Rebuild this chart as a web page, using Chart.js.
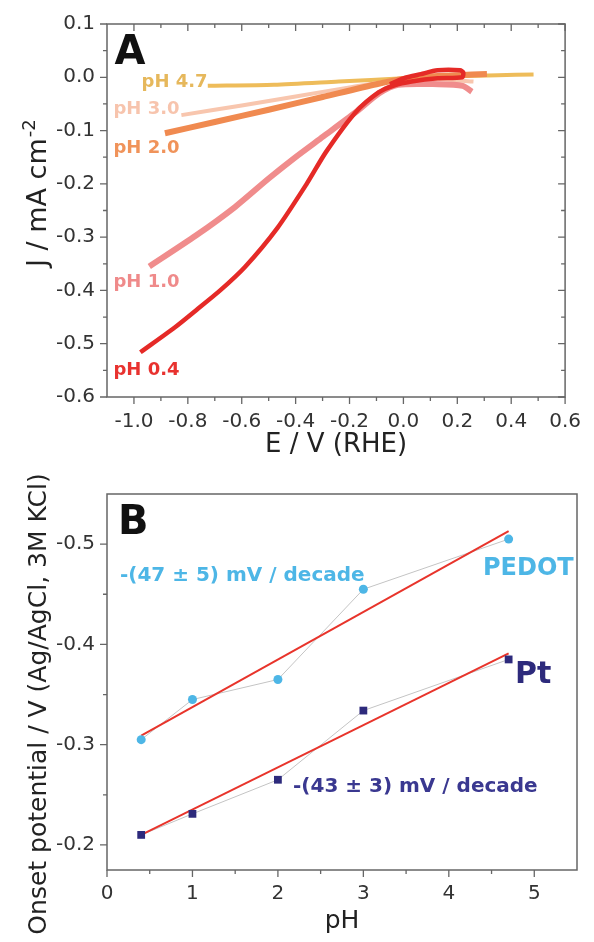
<!DOCTYPE html>
<html>
<head>
<meta charset="utf-8">
<script src="https://cdn.jsdelivr.net/npm/chart.js@4.4.1/dist/chart.umd.min.js"></script>
<style>
  body { margin: 0; background: #fff; }
  canvas { display: block; }
</style>
</head>
<body>
<canvas id="chartA" width="594" height="470"></canvas>
<canvas id="chartB" width="594" height="472"></canvas>
<script>
// Panel A: current density vs potential, one curve per pH
const ph04E = [-0.976, -0.85, -0.769, -0.68, -0.588, -0.468, -0.359, -0.287, -0.178, -0.091, -0.033, 0.03, 0.127, 0.218, 0.222, 0.21, 0.127, 0.065, 0.0, -0.05];
const ph04J = [-0.516, -0.47, -0.437, -0.4, -0.356, -0.283, -0.2, -0.14, -0.066, -0.028, -0.015, -0.008, -0.002, 0.0, 0.009, 0.013, 0.013, 0.006, -0.002, -0.013];
const ph10E = [-0.943, -0.77, -0.624, -0.5, -0.406, -0.297, -0.178, -0.09, -0.02, 0.13, 0.22, 0.254];
const ph10J = [-0.355, -0.297, -0.243, -0.19, -0.152, -0.111, -0.066, -0.03, -0.014, -0.013, -0.016, -0.027];
const ph20E = [-0.885, -0.7, -0.5, -0.3, -0.1, 0.0, 0.1, 0.2, 0.31];
const ph20J = [-0.105, -0.084, -0.061, -0.037, -0.013, -0.003, 0.002, 0.004, 0.006];
const ph30E = [-0.824, -0.6, -0.4, -0.2, 0.0, 0.15, 0.26];
const ph30J = [-0.071, -0.053, -0.036, -0.019, -0.004, -0.004, -0.008];
const ph47E = [-0.726, -0.48, -0.24, 0.0, 0.2, 0.35, 0.483];
const ph47J = [-0.016, -0.014, -0.008, -0.002, 0.002, 0.004, 0.005];

const xTicksA = [-1.0, -0.8, -0.6, -0.4, -0.2, 0.0, 0.2, 0.4, 0.6];
const xMinorA = [-0.9, -0.7, -0.5, -0.3, -0.1, 0.1, 0.3, 0.5];
const yTicksA = [0.1, 0.0, -0.1, -0.2, -0.3, -0.4, -0.5, -0.6];
const yMinorA = [0.05, -0.05, -0.15, -0.25, -0.35, -0.45, -0.55];

// Panel B: onset potential vs pH
const phB = [0.4, 1, 2, 3, 4.7];
const pedotOnset = [-0.305, -0.345, -0.365, -0.455, -0.505];
const ptOnset = [-0.21, -0.231, -0.265, -0.334, -0.385];
const fitPH = [0.4, 4.7];
const pedotFit = [-0.309, -0.513];
const ptFit = [-0.21, -0.391];

const xTicksB = [0, 1, 2, 3, 4, 5];
const xMinorB = [0.5, 1.5, 2.5, 3.5, 4.5];
const yTicksB = [-0.5, -0.4, -0.3, -0.2];
const yMinorB = [-0.45, -0.35, -0.25];

const toXY = (xs, ys) => xs.map((v, i) => ({ x: v, y: ys[i] }));
const fix1 = v => (Math.abs(v) < 1e-9 ? '0.0' : v.toFixed(1));

Chart.defaults.font.family = "'DejaVu Sans', sans-serif";
Chart.defaults.color = '#333';

// frame around the plot area plus major/minor tick marks
const frameTicks = {
  id: 'frameTicks',
  afterDraw(chart, args, opts) {
    const { ctx, chartArea: a, scales: { x, y } } = chart;
    ctx.save();
    ctx.strokeStyle = '#666';
    ctx.lineWidth = 1.5;
    ctx.strokeRect(a.left, a.top, a.right - a.left, a.bottom - a.top);
    ctx.lineWidth = 1.3;
    ctx.beginPath();
    const xs = [[opts.xMajor, 7], [opts.xMinor, 4]];
    const ys = [[opts.yMajor, 7], [opts.yMinor, 4]];
    xs.forEach(([vals, len]) => vals.forEach(v => {
      const px = x.getPixelForValue(v);
      ctx.moveTo(px, a.bottom); ctx.lineTo(px, a.bottom + len);
      if (opts.mirror) { ctx.moveTo(px, a.top); ctx.lineTo(px, a.top + len); }
    }));
    ys.forEach(([vals, len]) => vals.forEach(v => {
      const py = y.getPixelForValue(v);
      ctx.moveTo(a.left, py); ctx.lineTo(a.left - len, py);
      if (opts.mirror) { ctx.moveTo(a.right, py); ctx.lineTo(a.right - len, py); }
    }));
    ctx.stroke();
    ctx.restore();
  }
};

// text labels placed in data coordinates, and the rotated y title
const textMarks = {
  id: 'textMarks',
  afterDraw(chart, args, opts) {
    const { ctx, scales: { x, y } } = chart;
    ctx.save();
    ctx.textAlign = 'left';
    ctx.textBaseline = 'middle';
    opts.items.forEach(t => {
      ctx.font = t.font;
      ctx.fillStyle = t.color;
      ctx.fillText(t.text, x.getPixelForValue(t.x), y.getPixelForValue(t.y));
    });
    const yt = opts.yTitle;
    ctx.translate(yt.x, yt.y);
    ctx.rotate(-Math.PI / 2);
    ctx.fillStyle = '#222';
    ctx.textBaseline = 'alphabetic';
    ctx.font = yt.font;
    ctx.textAlign = yt.align;
    ctx.fillText(yt.text, 0, 0);
    if (yt.sup) {
      const w = ctx.measureText(yt.text).width;
      ctx.font = yt.supFont;
      ctx.textAlign = 'left';
      ctx.fillText(yt.sup, w + 1, -11);
    }
    ctx.restore();
  }
};

const bold = px => `bold ${px}px 'DejaVu Sans', sans-serif`;

new Chart(document.getElementById('chartA'), {
  type: 'scatter',
  data: {
    datasets: [
      { data: toXY(ph04E, ph04J), borderColor: '#e52a27', borderWidth: 4.5 },
      { data: toXY(ph10E, ph10J), borderColor: '#f08c8c', borderWidth: 6 },
      { data: toXY(ph20E, ph20J), borderColor: '#f08a50', borderWidth: 6 },
      { data: toXY(ph30E, ph30J), borderColor: '#f8c6ae', borderWidth: 4 },
      { data: toXY(ph47E, ph47J), borderColor: '#eebc5a', borderWidth: 4 }
    ].map(d => Object.assign(d, { showLine: true, pointRadius: 0, tension: 0.25, fill: false }))
  },
  options: {
    responsive: false,
    animation: false,
    layout: { padding: { left: 0, right: 18, top: 22, bottom: 0 } },
    plugins: {
      legend: { display: false },
      tooltip: { enabled: false },
      frameTicks: { mirror: true, xMajor: xTicksA, xMinor: xMinorA, yMajor: yTicksA, yMinor: yMinorA },
      textMarks: {
        items: [
          { text: 'A', x: -1.072, y: 0.045, color: '#111', font: bold(40) },
          { text: 'pH 4.7', x: -0.972, y: -0.009, color: '#e6b85c', font: bold(18) },
          { text: 'pH 3.0', x: -1.076, y: -0.060, color: '#f7c4ad', font: bold(18) },
          { text: 'pH 2.0', x: -1.076, y: -0.133, color: '#f0935a', font: bold(18) },
          { text: 'pH 1.0', x: -1.076, y: -0.385, color: '#ef8a8a', font: bold(18) },
          { text: 'pH 0.4', x: -1.076, y: -0.550, color: '#e8322f', font: bold(18) }
        ],
        yTitle: { text: 'J / mA cm', sup: '-2', x: 46, y: 267, align: 'left',
                  font: "27px 'DejaVu Sans', sans-serif", supFont: "18px 'DejaVu Sans', sans-serif" }
      }
    },
    scales: {
      x: {
        type: 'linear', min: -1.1, max: 0.6,
        afterFit: s => { s.height = 73; },
        afterBuildTicks: s => { s.ticks = xTicksA.map(v => ({ value: v })); },
        grid: { display: false, drawTicks: false },
        border: { display: false },
        ticks: { callback: v => fix1(v), padding: 13, font: { size: 20 }, maxRotation: 0, autoSkip: false },
        title: { display: true, text: 'E / V (RHE)', color: '#222', font: { size: 26 }, padding: { top: 0, bottom: 9 } }
      },
      y: {
        type: 'linear', min: -0.6, max: 0.1,
        afterFit: s => { s.width = 107; },
        afterBuildTicks: s => { s.ticks = yTicksA.map(v => ({ value: v })); },
        grid: { display: false, drawTicks: false },
        border: { display: false },
        ticks: { callback: v => fix1(v), padding: 12, font: { size: 20 }, autoSkip: false }
      }
    }
  },
  plugins: [frameTicks, textMarks]
});

new Chart(document.getElementById('chartB'), {
  type: 'scatter',
  data: {
    datasets: [
      { data: toXY(phB, pedotOnset), pointStyle: 'circle', pointRadius: 4.5, backgroundColor: '#4db6e6', borderWidth: 0, showLine: false },
      { data: toXY(phB, ptOnset), pointStyle: 'rect', pointRadius: 5.5, backgroundColor: '#2d2a7c', borderWidth: 0, showLine: false },
      { data: toXY(fitPH, pedotFit), showLine: true, borderColor: '#e8342b', borderWidth: 2, pointRadius: 0 },
      { data: toXY(fitPH, ptFit), showLine: true, borderColor: '#e8342b', borderWidth: 2, pointRadius: 0 },
      { data: toXY(phB, pedotOnset), showLine: true, borderColor: '#c4c4c4', borderWidth: 1, pointRadius: 0 },
      { data: toXY(phB, ptOnset), showLine: true, borderColor: '#c4c4c4', borderWidth: 1, pointRadius: 0 }
    ]
  },
  options: {
    responsive: false,
    animation: false,
    layout: { padding: { left: 0, right: 17, top: 23, bottom: 0 } },
    plugins: {
      legend: { display: false },
      tooltip: { enabled: false },
      frameTicks: { mirror: false, xMajor: xTicksB, xMinor: xMinorB, yMajor: yTicksB, yMinor: yMinorB },
      textMarks: {
        items: [
          { text: 'B', x: 0.129, y: -0.5206, color: '#111', font: bold(40) },
          { text: '-(47 ± 5) mV / decade', x: 0.152, y: -0.468, color: '#4db6e6', font: bold(20) },
          { text: 'PEDOT', x: 4.40, y: -0.4754, color: '#4db6e6', font: bold(24) },
          { text: 'Pt', x: 4.775, y: -0.369, color: '#2d2a7c', font: bold(30) },
          { text: '-(43 ± 3) mV / decade', x: 2.177, y: -0.2575, color: '#3a3890', font: bold(20) }
        ],
        yTitle: { text: 'Onset potential / V (Ag/AgCl, 3M KCl)', x: 46, y: 234, align: 'center',
                  font: "25px 'DejaVu Sans', sans-serif" }
      }
    },
    scales: {
      x: {
        type: 'linear', min: 0, max: 5.5,
        afterFit: s => { s.height = 72; },
        afterBuildTicks: s => { s.ticks = xTicksB.map(v => ({ value: v })); },
        grid: { display: false, drawTicks: false },
        border: { display: false },
        ticks: { callback: v => String(v), padding: 12, font: { size: 20 }, maxRotation: 0, autoSkip: false },
        title: { display: true, text: 'pH', color: '#222', font: { size: 25 }, padding: { top: 0, bottom: 6 } }
      },
      y: {
        type: 'linear', min: -0.55, max: -0.175, reverse: true,
        afterFit: s => { s.width = 107; },
        afterBuildTicks: s => { s.ticks = yTicksB.map(v => ({ value: v })); },
        grid: { display: false, drawTicks: false },
        border: { display: false },
        ticks: { callback: v => fix1(v), padding: 12, font: { size: 20 }, autoSkip: false }
      }
    }
  },
  plugins: [frameTicks, textMarks]
});
</script>
</body>
</html>
